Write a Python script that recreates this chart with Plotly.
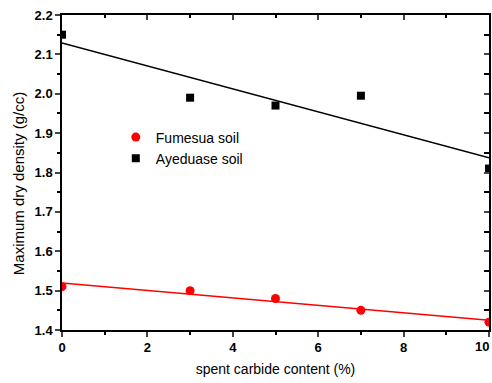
import numpy as np
import plotly.graph_objects as go

carbide = [0, 3, 5, 7, 10]
fumesua = [1.51, 1.50, 1.48, 1.45, 1.42]
ayeduase = [2.15, 1.99, 1.97, 1.995, 1.81]

xr = [0, 10]
yr = [1.4, 2.2]

def fit(x, y):
    m, c = np.polyfit(x, y, 1)
    xs = np.array(xr, dtype=float)
    return xs, m * xs + c

fig = go.Figure()
fx, fy = fit(carbide, fumesua)
ax, ay = fit(carbide, ayeduase)
fig.add_trace(go.Scatter(x=fx, y=fy, mode="lines", line=dict(color="red", width=1.5),
                         showlegend=False, hoverinfo="skip"))
fig.add_trace(go.Scatter(x=ax, y=ay, mode="lines", line=dict(color="black", width=1.5),
                         showlegend=False, hoverinfo="skip"))
fig.add_trace(go.Scatter(x=carbide, y=fumesua, mode="markers", name="Fumesua soil",
                         marker=dict(symbol="circle", size=9, color="red")))
fig.add_trace(go.Scatter(x=carbide, y=ayeduase, mode="markers", name="Ayeduase soil",
                         marker=dict(symbol="square", size=8, color="black")))
# invisible trace to activate mirror axes
fig.add_trace(go.Scatter(x=[None], y=[None], xaxis="x2", yaxis="y2", showlegend=False))

tickfont = dict(family="Liberation Sans, Arial", size=13, color="black", weight="bold")
titlefont = dict(family="Liberation Sans, Arial", size=14, color="black")

fig.update_layout(
    width=492, height=383,
    margin=dict(l=62, r=3, t=15, b=53),
    paper_bgcolor="white", plot_bgcolor="white",
    showlegend=True,
    legend=dict(x=0.126, y=0.662, xanchor="left", yanchor="top",
                font=dict(family="Liberation Sans, Arial", size=14, color="black"),
                bgcolor="rgba(0,0,0,0)", tracegroupgap=0),
    xaxis=dict(range=xr, dtick=2, ticks="outside", ticklen=5, tickwidth=1.5,
               showline=True, linecolor="black", linewidth=1.5, showgrid=False, zeroline=False,
               tickfont=tickfont,
               minor=dict(dtick=1, ticks="outside", ticklen=3, tickwidth=1.5, tickcolor="black"),
               title=dict(text="spent carbide content (%)", font=titlefont, standoff=10)),
    yaxis=dict(range=yr, dtick=0.1, tickformat=".1f", ticks="outside", ticklen=5, tickwidth=1.5,
               showline=True, linecolor="black", linewidth=1.5, showgrid=False, zeroline=False,
               tickfont=tickfont,
               minor=dict(dtick=0.05, ticks="outside", ticklen=3, tickwidth=1.5, tickcolor="black")),
    xaxis2=dict(range=xr, overlaying="x", side="top", dtick=2, ticks="inside", ticklen=5,
                tickwidth=1.5, showticklabels=False, showline=True, linecolor="black",
                linewidth=1.5, showgrid=False, zeroline=False,
                minor=dict(dtick=1, ticks="inside", ticklen=3, tickwidth=1.5, tickcolor="black")),
    yaxis2=dict(range=yr, overlaying="y", side="right", dtick=0.1, ticks="inside", ticklen=5,
                tickwidth=1.5, showticklabels=False, showline=True, linecolor="black",
                linewidth=1.5, showgrid=False, zeroline=False,
                minor=dict(dtick=0.05, ticks="inside", ticklen=5, tickwidth=1.5, tickcolor="black")),
    annotations=[
        dict(text="Maximum dry density (g/cc)", textangle=-90, xref="paper", yref="paper",
             x=-0.103, y=0.463, xanchor="center", yanchor="middle", showarrow=False,
             font=dict(family="Liberation Sans, Arial", size=15, color="black")),
        dict(text="10", xref="paper", yref="paper", x=1.005, y=-0.022, xanchor="right",
             yanchor="top", showarrow=False, font=tickfont),
    ],
)

fig.write_html("out.html")
